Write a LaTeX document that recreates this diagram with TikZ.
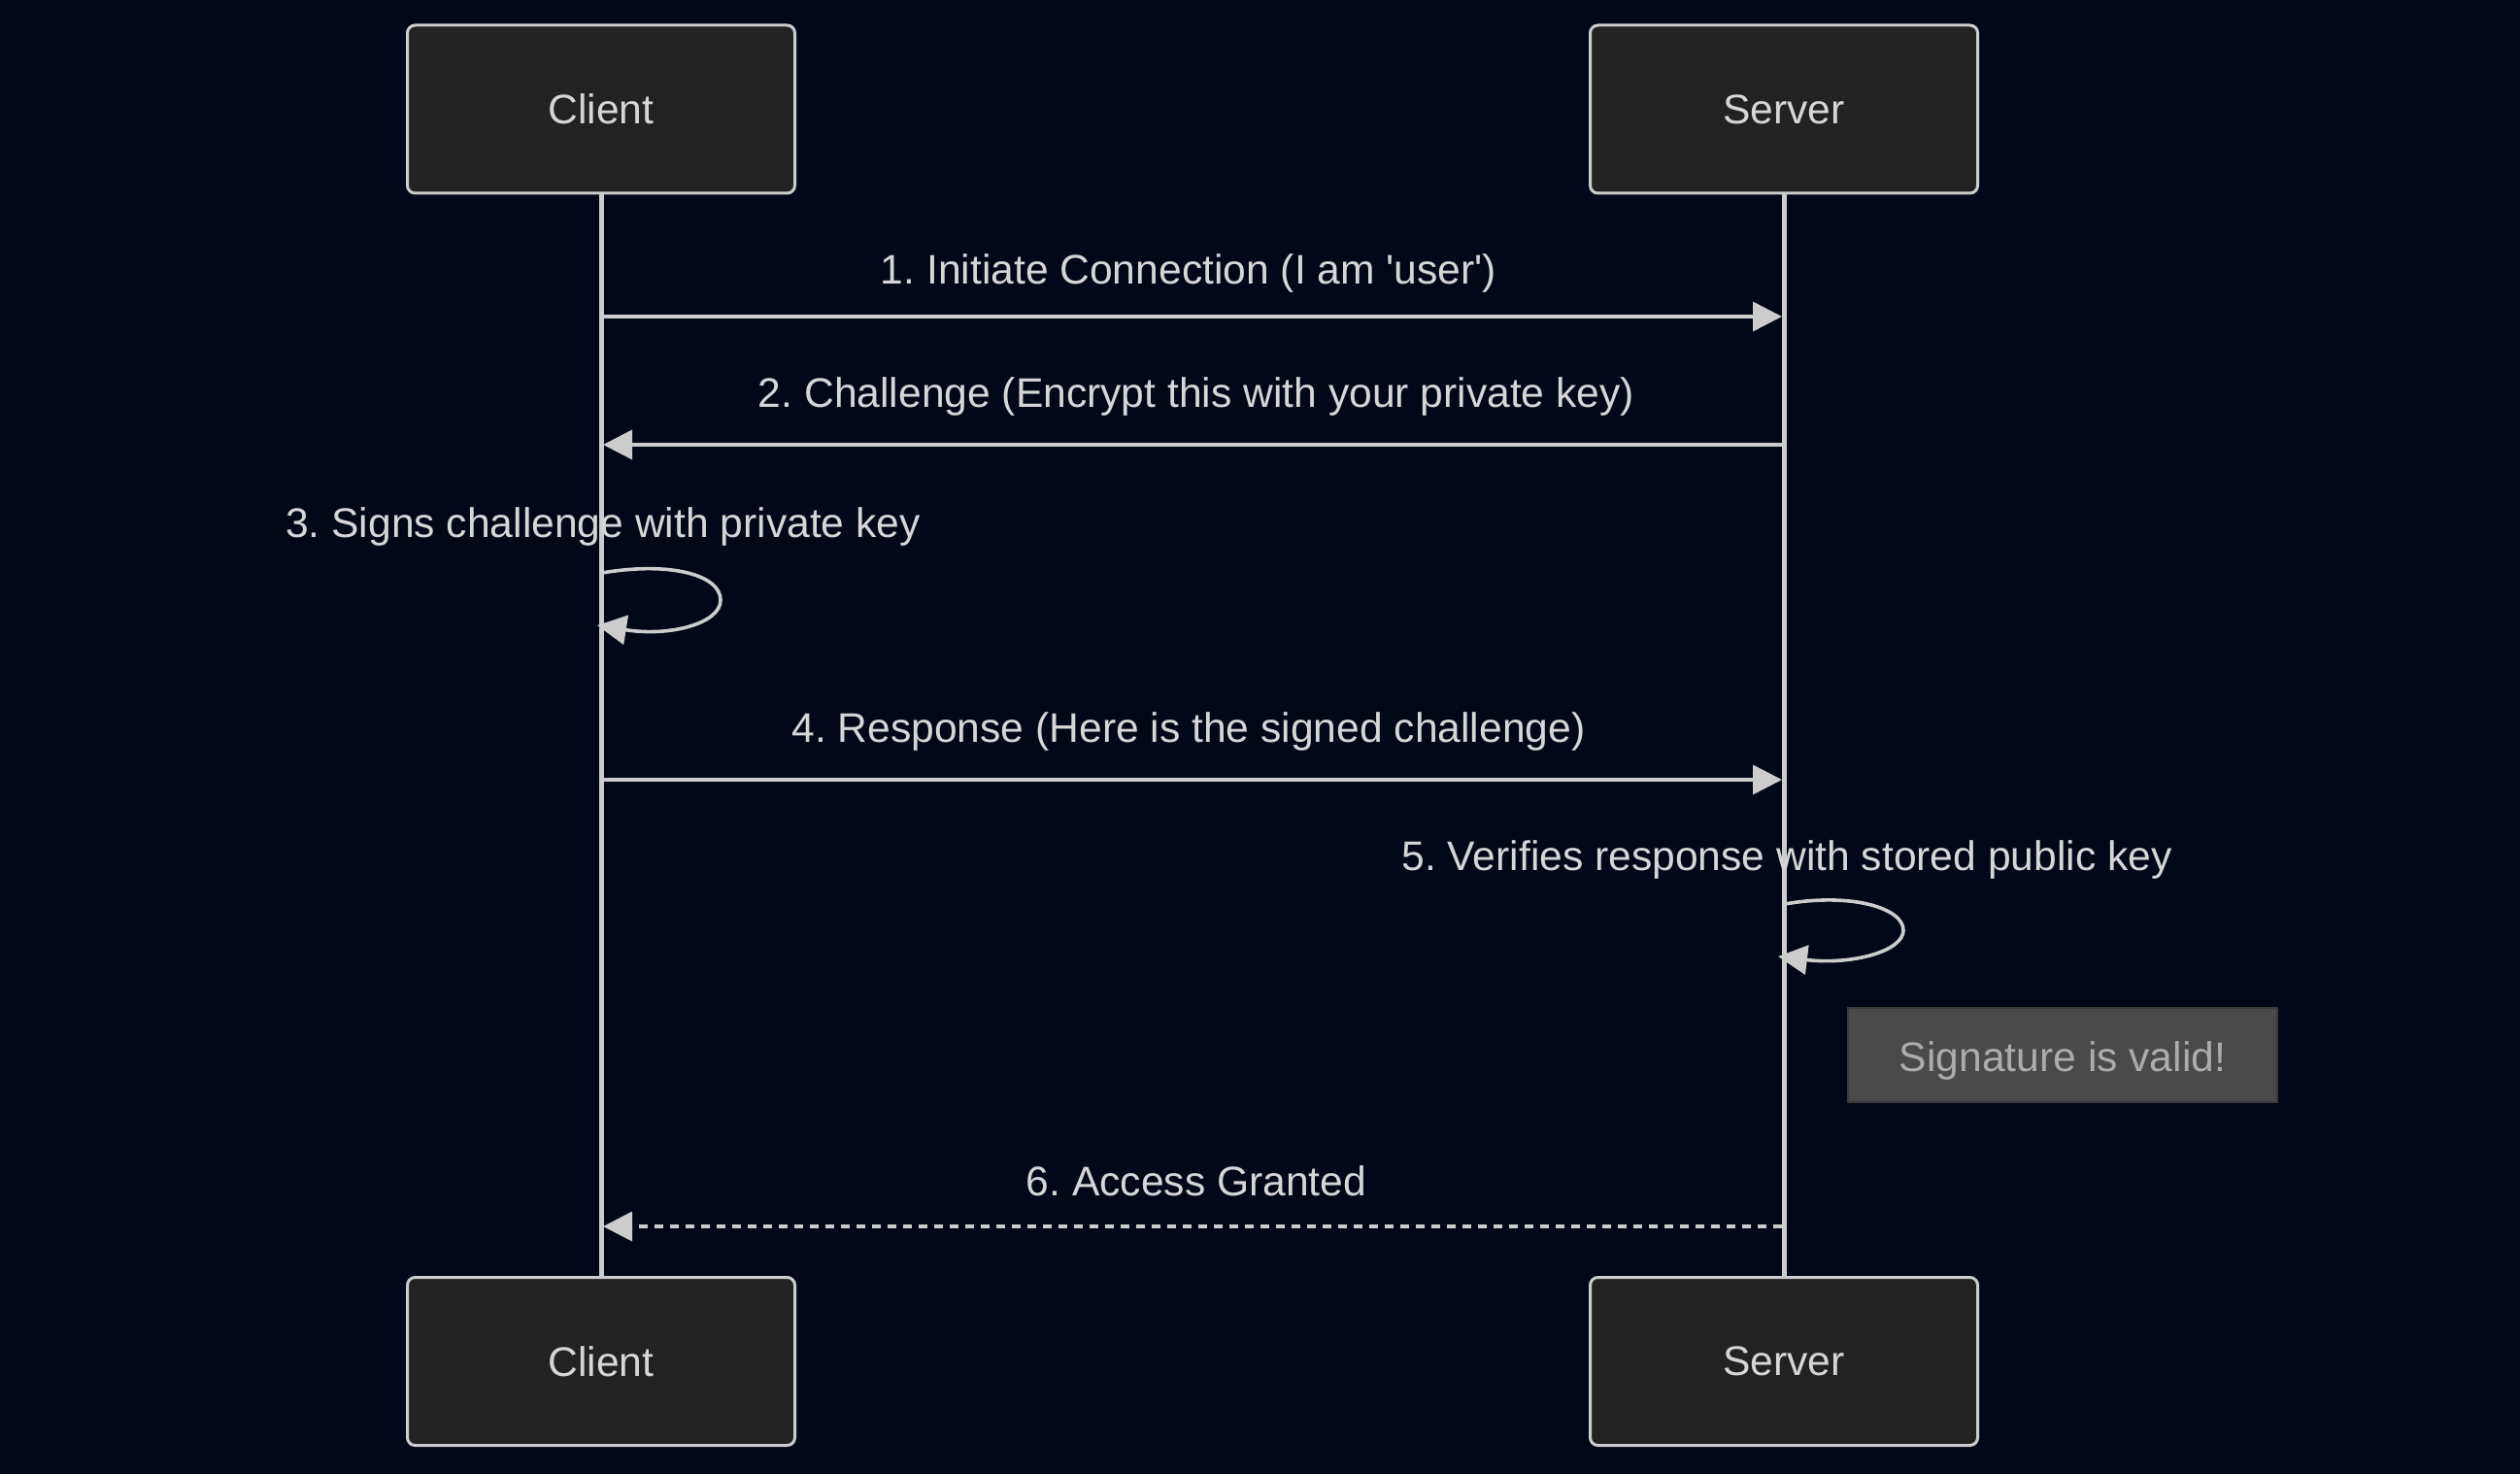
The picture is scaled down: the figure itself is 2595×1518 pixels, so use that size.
\documentclass[tikz,border=0pt]{standalone}
\usepackage{fontspec}
\setmainfont{Liberation Sans}
\usetikzlibrary{arrows.meta}
\definecolor{bg}{RGB}{2,8,23}
\definecolor{boxfill}{RGB}{33,34,33}
\definecolor{lineclr}{RGB}{204,204,204}
\definecolor{txt}{RGB}{214,214,214}
\definecolor{notefill}{RGB}{73,74,73}
\definecolor{notedraw}{RGB}{58,58,58}
\definecolor{notetxt}{RGB}{172,172,172}
\tikzset{
  actor/.style={draw=lineclr, line width=1.5pt, fill=boxfill, rounded corners=4pt,
    minimum width=199.5pt, minimum height=86.5pt, inner sep=0pt, text=txt,
    font=\fontsize{21.3}{25}\selectfont},
  life/.style={draw=lineclr, line width=2.5pt},
  msg/.style={draw=lineclr, line width=1.8pt, -{Triangle[length=15pt,width=15pt]}},
  dmsg/.style={msg, dash pattern=on 4.5pt off 3.5pt},
  lbl/.style={text=txt, font=\fontsize{21.3}{25}\selectfont, inner sep=0pt},
  note/.style={draw=notedraw, line width=1pt, fill=notefill, minimum width=221pt,
    minimum height=48.5pt, inner sep=0pt, text=notetxt, font=\fontsize{21.3}{25}\selectfont}
}
\begin{document}
\frenchspacing
\begin{tikzpicture}[x=0.5pt,y=-0.5pt]
\fill[bg] (0,0) rectangle (2595,1518);
\useasboundingbox (0,0) rectangle (2595,1518);
% actors
\node[actor] (ct) at (619,112.5) {Client};
\node[actor] (st) at (1837,112.5) {Server};
\node[actor] (cb) at (619,1402) {Client};
\node[actor] (sb) at (1837,1402) {Server};
% lifelines
\draw[life] (ct.south) -- (cb.north);
\draw[life] (st.south) -- (sb.north);
% message anchors
\coordinate (c1) at (621,326); \coordinate (s1) at (1835,326);
\coordinate (c2) at (621,458); \coordinate (s2) at (1835,458);
\coordinate (c3a) at (620,590); \coordinate (c3b) at (615,644);
\coordinate (c4) at (621,803); \coordinate (s4) at (1835,803);
\coordinate (s5a) at (1838,931); \coordinate (s5b) at (1831,985);
\coordinate (c6) at (621,1263); \coordinate (s6) at (1835,1263);
% messages
\draw[msg] (c1) -- (s1);
\node[lbl] (l1) at (1224,281) {1. Initiate Connection (I am \textquotesingle user\textquotesingle)};
\draw[msg] (s2) -- (c2);
\node[lbl] (l2) at (1232,408) {2. Challenge (Encrypt this with your private key)};
\node[lbl] (l3) at (621,542) {3. Signs challenge with private key};
\draw[msg] (c3a) .. controls (690,578) and (742,592) .. (742,618)
  .. controls (742,642) and (690,656) .. (c3b);
\draw[msg] (c4) -- (s4);
\node[lbl] (l4) at (1224,753) {4. Response (Here is the signed challenge)};
\node[lbl] (l5) at (1840,885) {5. Verifies response with stored public key};
\draw[msg] (s5a) .. controls (1906,919) and (1960,935) .. (1960,958)
  .. controls (1960,980) and (1906,994) .. (s5b);
\node[note] (n1) at (2124,1086.5) {\raisebox{-3pt}[\height][\depth]{Signature is valid!}};
\draw[dmsg] (s6) -- (c6);
\node[lbl] (l6) at (1232,1216) {6. Access Granted};
\end{tikzpicture}
\end{document}
